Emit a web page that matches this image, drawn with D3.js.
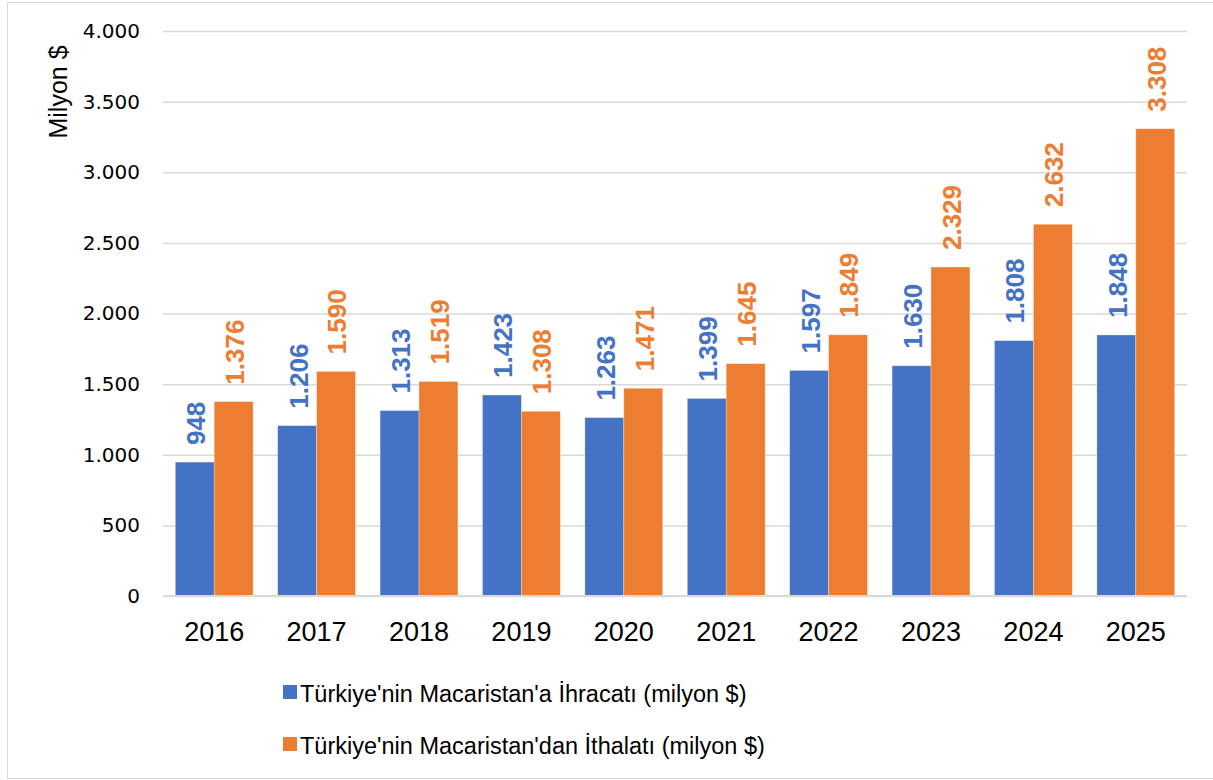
<!DOCTYPE html>
<html>
<head>
<meta charset="utf-8">
<script src="https://cdn.jsdelivr.net/npm/d3@7"></script>
<style>
  body { margin: 0; background: #fff; }
  svg { display: block; }
</style>
</head>
<body>
<div id="chart"></div>
<script>
// values (million $)
const years = ["2016", "2017", "2018", "2019", "2020", "2021", "2022", "2023", "2024", "2025"];
const exportsHU = [948, 1206, 1313, 1423, 1263, 1399, 1597, 1630, 1808, 1848];
const importsHU = [1376, 1590, 1519, 1308, 1471, 1645, 1849, 2329, 2632, 3308];
const seriesNames = [
    "Türkiye'nin Macaristan'a İhracatı (milyon $)",
    "Türkiye'nin Macaristan'dan İthalatı (milyon $)"
];
const yTicks = [0, 500, 1000, 1500, 2000, 2500, 3000, 3500, 4000];
const colors = ["#4472C4", "#ED7D31"];

const width = 1213, height = 780;
const margin = { top: 31, right: 26, bottom: 184, left: 163 };

const svg = d3.select("#chart").append("svg")
    .attr("width", width)
    .attr("height", height);

// outer frame
svg.append("rect")
    .attr("x", 7.5).attr("y", 2.5)
    .attr("width", width - 6).attr("height", height - 4)
    .attr("fill", "none")
    .attr("stroke", "#d9d9d9");

const x = d3.scaleBand()
    .domain(years)
    .range([margin.left, width - margin.right])
    .paddingInner(0.24)
    .paddingOuter(0.12);

const xz = d3.scaleBand()
    .domain([0, 1])
    .range([0, x.bandwidth()]);

const y = d3.scaleLinear()
    .domain([0, 4000])
    .range([height - margin.bottom, margin.top]);

const fmt = v => d3.format(",")(v).replace(/,/g, ".");

// grid + y labels
const yAxis = svg.append("g")
    .attr("transform", `translate(${margin.left},0)`)
    .call(d3.axisLeft(y).tickValues(yTicks).tickSize(0).tickPadding(23).tickFormat(fmt))
    .call(g => g.select(".domain").remove())
    .call(g => g.selectAll(".tick text")
        .attr("fill", "#000")
        .style("font-family", "'DejaVu Sans', sans-serif")
        .style("font-size", "20px"));

yAxis.selectAll(".tick line").clone()
    .attr("x2", width - margin.left - margin.right)
    .attr("stroke", "#d9d9d9")
    .attr("stroke-width", 1.5);

// bars
const rows = years.map((yr, i) => ({ year: yr, vals: [exportsHU[i], importsHU[i]] }));

const group = svg.append("g")
    .selectAll("g")
    .data(rows)
    .join("g")
    .attr("transform", d => `translate(${x(d.year)},0)`);

group.selectAll("rect")
    .data(d => d.vals.map((v, k) => ({ k, v })))
    .join("rect")
    .attr("x", d => xz(d.k))
    .attr("y", d => y(d.v))
    .attr("width", xz.bandwidth())
    .attr("height", d => y(0) - y(d.v))
    .attr("fill", d => colors[d.k])
    .attr("stroke", "#fff")
    .attr("stroke-opacity", 0.5)
    .attr("stroke-width", 0.6);

// value labels (rotated)
group.selectAll("text")
    .data(d => d.vals.map((v, k) => ({ k, v })))
    .join("text")
    .attr("transform", d => `translate(${xz(d.k) + xz.bandwidth() / 2 + 1},${y(d.v) - 17}) rotate(-90)`)
    .attr("dy", "0.36em")
    .attr("text-anchor", "start")
    .attr("fill", d => colors[d.k])
    .style("font-family", "'Liberation Sans', Arial, sans-serif")
    .style("font-weight", "bold")
    .style("font-size", "26px")
    .text(d => fmt(d.v));

// baseline
svg.append("line")
    .attr("x1", margin.left).attr("x2", width - margin.right)
    .attr("y1", y(0)).attr("y2", y(0))
    .attr("stroke", "#d9d9d9")
    .attr("stroke-width", 2);

// x labels
svg.append("g")
    .attr("transform", `translate(0,${y(0)})`)
    .call(d3.axisBottom(x).tickSize(0).tickPadding(26))
    .call(g => g.select(".domain").remove())
    .call(g => g.selectAll(".tick text")
        .attr("fill", "#000")
        .style("font-family", "'Liberation Sans', Arial, sans-serif")
        .style("font-size", "27px"));

// y title
svg.append("text")
    .attr("transform", "translate(58,92) rotate(-90)")
    .attr("text-anchor", "middle")
    .attr("dy", "0.35em")
    .style("font-family", "'Liberation Sans', Arial, sans-serif")
    .style("font-size", "25px")
    .text("Milyon $");

// legend
const legend = svg.append("g")
    .selectAll("g")
    .data(seriesNames)
    .join("g")
    .attr("transform", (d, i) => `translate(283,${692 + i * 52})`);

legend.append("rect")
    .attr("x", 0).attr("y", -7)
    .attr("width", 14).attr("height", 14)
    .attr("fill", (d, i) => colors[i]);

legend.append("text")
    .attr("x", 17)
    .attr("y", 10)
    .style("font-family", "'Liberation Sans', Arial, sans-serif")
    .style("font-size", "23.5px")
    .text(d => d);
</script>
</body>
</html>
